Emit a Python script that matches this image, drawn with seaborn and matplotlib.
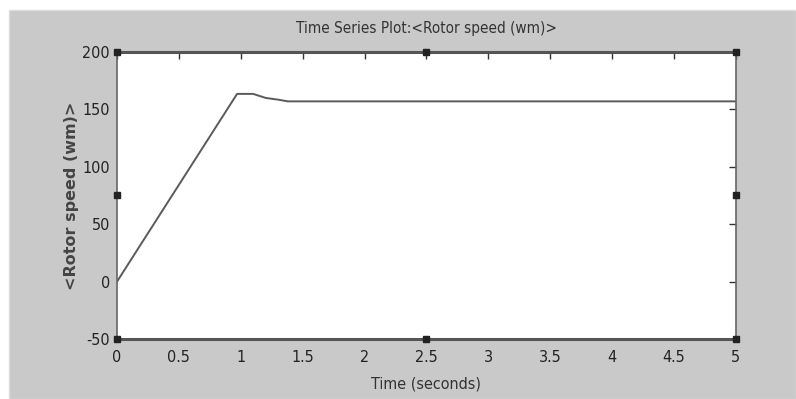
import matplotlib
matplotlib.use("Agg")
import matplotlib.pyplot as plt
from matplotlib.patches import Rectangle
import seaborn as sns
import pandas as pd

# rotor speed trace
time_s = [0.0, 0.97, 1.1, 1.2, 1.3, 1.38, 5.0]
speed_wm = [0.0, 163.5, 163.5, 160.0, 158.5, 157.0, 157.0]

x_ticks = [0, 0.5, 1, 1.5, 2, 2.5, 3, 3.5, 4, 4.5, 5]
x_labels = ["0", "0.5", "1", "1.5", "2", "2.5", "3", "3.5", "4", "4.5", "5"]
y_ticks = [-50, 0, 50, 100, 150, 200]

df = pd.DataFrame({"t": time_s, "wm": speed_wm})

sns.set_style("white")
plt.rcParams["font.family"] = ["DejaVu Sans"]
plt.rcParams["font.stretch"] = "condensed"
plt.rcParams["axes.unicode_minus"] = False

fig = plt.figure(figsize=(7.96, 3.99), dpi=100)
fig.patch.set_facecolor("white")
# gray panel of the scope window
fig.add_artist(Rectangle((9 / 796, 0), 1 - 9 / 796, 1 - 10 / 399,
                         transform=fig.transFigure, facecolor="#c9c9c9",
                         edgecolor="#dddddd", lw=1, zorder=-10))

ax = fig.add_axes([0.147, 0.1504, 0.7775, 0.7193])
ax.set_facecolor("white")
sns.lineplot(data=df, x="t", y="wm", ax=ax, color="#5a5a5a", lw=1.4)

ax.set_xlim(0, 5)
ax.set_ylim(-50, 200)
ax.set_xticks(x_ticks)
ax.set_xticklabels(x_labels)
ax.set_yticks(y_ticks)
ax.tick_params(direction="in", length=5, width=1, colors="#333333",
               top=True, right=True, labelsize=11.5)
ax.tick_params(axis="x", pad=8)
ax.tick_params(axis="y", pad=5)
for lab in ax.get_xticklabels() + ax.get_yticklabels():
    lab.set_color("#222222")

for side in ["top", "bottom"]:
    ax.spines[side].set_linewidth(2.2)
    ax.spines[side].set_color("#555555")
for side in ["left", "right"]:
    ax.spines[side].set_linewidth(1.2)
    ax.spines[side].set_color("#666666")

# selection handles on the frame
hx = [0, 2.5, 5, 0, 2.5, 5, 0, 5]
hy = [200, 200, 200, -50, -50, -50, 75, 75]
ax.plot(hx, hy, ls="none", marker="s", ms=5, color="#222222", clip_on=False, zorder=5)

ax.set_title("Time Series Plot:<Rotor speed (wm)>", fontsize=11, color="#333333", pad=14)
ax.set_xlabel("Time (seconds)", fontsize=11.5, color="#333333")
ax.set_ylabel("<Rotor speed (wm)>", fontsize=11.5, color="#444444",
              fontweight="bold", fontstretch="normal")
ax.xaxis.set_label_coords(0.5, -0.13)
ax.yaxis.set_label_coords(-0.062, 0.5)

fig.savefig("out.png", dpi=100)
